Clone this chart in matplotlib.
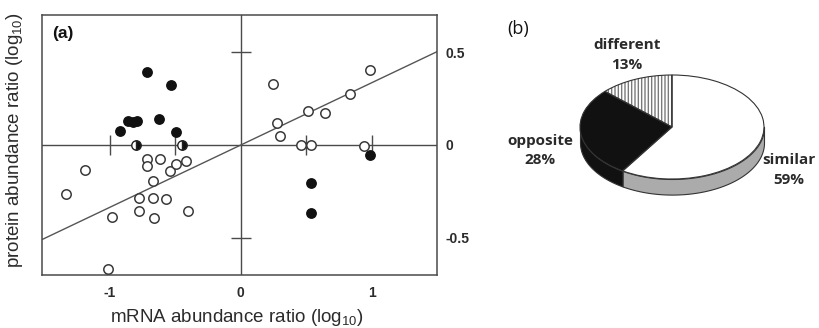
import numpy as np
import matplotlib
matplotlib.use("Agg")
import matplotlib.pyplot as plt

plt.rcParams["mathtext.fontset"] = "custom"
plt.rcParams["mathtext.rm"] = "Liberation Sans"
plt.rcParams["mathtext.it"] = "Liberation Sans:italic"
plt.rcParams["mathtext.bf"] = "Liberation Sans:bold"

# ---- panel (a): protein vs mRNA abundance ratios (log10) ----
open_x = [-1.338, -1.191, -0.987, -1.018, -0.776, -0.776, -0.720, -0.720, -0.674,
          -0.674, -0.662, -0.618, -0.573, -0.542, -0.499, -0.422, -0.407,
          0.247, 0.277, 0.303, 0.514, 0.646, 0.837, 0.990, 0.463, 0.539, 0.939]
open_y = [-0.263, -0.134, -0.388, -0.670, -0.286, -0.357, -0.077, -0.111, -0.196,
          -0.286, -0.393, -0.073, -0.291, -0.138, -0.104, -0.084, -0.357,
          0.327, 0.120, 0.048, 0.182, 0.170, 0.277, 0.402, 0.0, 0.0, -0.003]

filled_x = [-0.720, -0.537, -0.924, -0.860, -0.822, -0.792, -0.624, -0.496,
            0.990, 0.534, 0.534]
filled_y = [0.393, 0.321, 0.075, 0.130, 0.125, 0.130, 0.139, 0.071,
            -0.054, -0.205, -0.366]

half_x = [-0.800, -0.450]
half_y = [0.0, 0.0]

fit_slope = 0.335
fit_intercept = 0.0

x_ticks = [-1, 0, 1]
y_ticks = [-0.5, 0, 0.5]
x_ticklabels = ["-1", "0", "1"]
y_ticklabels = ["-0.5", "0", "0.5"]
cross_xticks = [-1.0, -0.5, 0.5, 1.0]   # marks along the y = 0 line
cross_yticks = [-0.5, 0.5]              # marks along the x = 0 line

# ---- panel (b): share of genes per category ----
pie_names = ["different", "opposite", "similar"]
pie_pcts = [13, 28, 59]

W, H = 819, 328
fig = plt.figure(figsize=(W / 100, H / 100), dpi=100)
fig.patch.set_facecolor("white")

sans = ["Liberation Sans", "DejaVu Sans"]
line_col = "#4a4a4a"
text_col = "#2b2b2b"

# ---------------- scatter panel ----------------
ax = fig.add_axes([42 / W, 1 - 275 / H, (437 - 42) / W, (275 - 15) / H])
ax.set_xlim(-1.52, 1.50)
ax.set_ylim(-0.70, 0.70)
for s in ax.spines.values():
    s.set_color(line_col)
    s.set_linewidth(1.1)

ax.axhline(0, color=line_col, lw=1.0, zorder=1)
ax.axvline(0, color=line_col, lw=1.0, zorder=1)
ax.plot(cross_xticks, [0] * len(cross_xticks), ls="none", marker="|",
        ms=15, mew=1.0, color=line_col, zorder=1)
ax.plot([0] * len(cross_yticks), cross_yticks, ls="none", marker="_",
        ms=14, mew=1.0, color=line_col, zorder=1)

xl = np.array(ax.get_xlim())
ax.plot(xl, fit_slope * xl + fit_intercept, color="#555555", lw=1.0, zorder=2)

ax.scatter(open_x, open_y, s=46, facecolors="white", edgecolors="#3a3a3a",
           linewidths=1.1, zorder=3)
ax.scatter(filled_x, filled_y, s=46, facecolors="#111111", edgecolors="#111111",
           linewidths=1.0, zorder=3)
ax.plot(half_x, half_y, ls="none", marker="o", ms=6.8, fillstyle="right",
        markerfacecolor="#111111", markerfacecoloralt="white",
        markeredgecolor="#222222", mew=1.0, zorder=3)

ax.set_xticks(x_ticks)
ax.set_xticklabels(x_ticklabels)
ax.set_yticks(y_ticks)
ax.set_yticklabels(y_ticklabels)
ax.yaxis.tick_right()
ax.tick_params(axis="x", length=0, pad=8, labelsize=10, labelcolor=text_col)
ax.tick_params(axis="y", length=0, pad=6, labelsize=10, labelcolor=text_col)
for lab in ax.get_xticklabels() + ax.get_yticklabels():
    lab.set_fontfamily(sans)
    lab.set_fontweight("bold")

ax.text(0.025, 0.93, "(a)", transform=ax.transAxes, fontsize=12.5,
        fontweight="bold", family=sans, color="#111111", va="center", ha="left")

fig.text(237 / W, 1 - 318 / H, r"mRNA abundance ratio (log$_{10}$)",
         fontsize=13.5, family=sans, color=text_col, ha="center", va="center")
fig.text(15 / W, 1 - 140 / H, r"protein abundance ratio (log$_{10}$)",
         fontsize=13.5, family=sans, color=text_col, ha="center", va="center",
         rotation=90)

# ---------------- 3-D style pie panel ----------------
pie_font = ["Open Sans", "DejaVu Sans"]
cx, cy, rx, ry = 672, 127, 92, 52     # pixel centre and radii of pie top
pax = fig.add_axes([(cx - 1.5 * rx) / W, 1 - (cy + 1.5 * ry) / H,
                    3 * rx / W, 3 * ry / H])

depth = 0.30
start = 90.0
fractions = np.array(pie_pcts, dtype=float) / sum(pie_pcts)
edges = start + 360.0 * np.concatenate([[0], np.cumsum(fractions)])
wall_colors = ["#ffffff", "#111111", "#ababab"]

# side wall: only the front half (180..360 deg) is visible
for i in range(len(pie_pcts)):
    a0, a1 = edges[i], edges[i + 1]
    for off in (0.0, 360.0):
        lo = max(a0 - off, 180.0)
        hi = min(a1 - off, 360.0)
        if hi > lo:
            t = np.radians(np.linspace(lo, hi, 80))
            pax.fill_between(np.cos(t), np.sin(t), np.sin(t) - depth,
                             facecolor=wall_colors[i], edgecolor="#333333",
                             linewidth=0.8, zorder=1)

top_colors = ["white", "#111111", "white"]
wedges, _ = pax.pie(pie_pcts, colors=top_colors, startangle=start,
                    counterclock=True, hatch=["|||||", "", ""],
                    wedgeprops=dict(edgecolor="#7a7a7a", linewidth=0.0))
for w in wedges:
    w.set_zorder(2)
outline, _ = pax.pie(pie_pcts, startangle=start, counterclock=True,
                     wedgeprops=dict(fill=False, edgecolor="#333333",
                                     linewidth=0.8))
for w in outline:
    w.set_zorder(3)

pax.set_aspect("auto")
pax.set_xlim(-1.5, 1.5)
pax.set_ylim(-1.5, 1.5)
pax.axis("off")

label_pos = {"different": (-0.49, 1.385), "opposite": (-1.435, -0.45),
             "similar": (1.27, -0.83)}
for name, pct in zip(pie_names, pie_pcts):
    lx, ly = label_pos[name]
    pax.text(lx, ly, f"{name}\n{pct}%", ha="center", va="center",
             fontsize=11, fontweight="bold", family=pie_font,
             color="#2a2a2a", linespacing=1.5)

fig.text(507 / W, 1 - 29 / H, "(b)", fontsize=13, family=pie_font,
         color="#111111", ha="left", va="center")

fig.savefig("out.png", dpi=100, facecolor="white")
